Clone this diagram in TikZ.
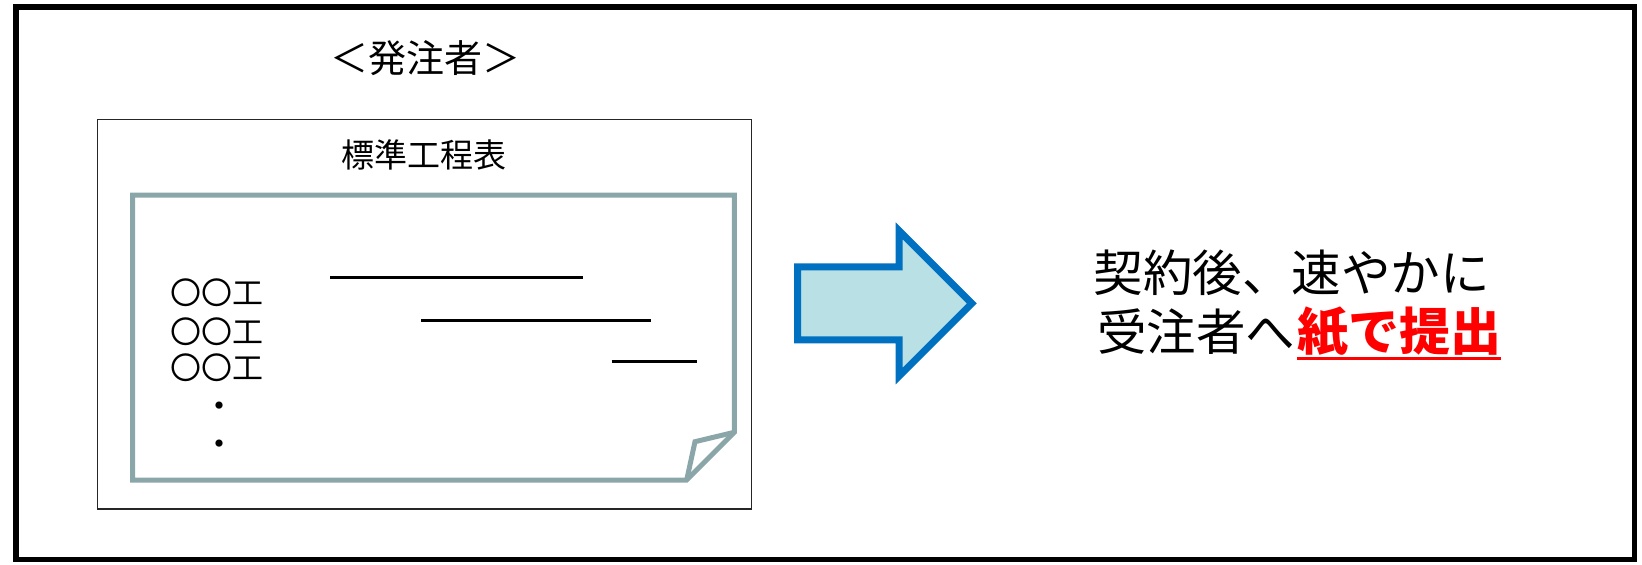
\documentclass[tikz,border=0pt]{standalone}
\usepackage{fontspec}
\setmainfont{Noto Sans CJK JP}
\usetikzlibrary{positioning}

\definecolor{papergray}{HTML}{8BA6A9}
\definecolor{arrowblue}{HTML}{0070C0}
\definecolor{arrowfill}{HTML}{B9E0E4}

\begin{document}
\begin{tikzpicture}[
			x=1pt, y=-1pt,
			every node/.style = {inner sep=0pt, outer sep=0pt},
			frame/.style      = {draw=black, line width=5.5pt},
			sheet/.style      = {draw=black!85, line width=1.4pt},
			paper/.style      = {draw=papergray, line width=5pt},
			bar/.style        = {draw=black, line width=3pt},
			bigarrow/.style   = {draw=arrowblue, fill=arrowfill, line width=7pt},
			ulline/.style     = {draw=red, line width=3.5pt},
			head/.style       = {anchor=base, font=\fontsize{38}{40}\selectfont},
			title/.style      = {anchor=base, font=\fontsize{33}{36}\selectfont},
			item/.style       = {anchor=base west, font=\fontsize{31}{33}\selectfont},
			dot/.style        = {anchor=base, font=\fontsize{34}{36}\selectfont},
			msg/.style        = {font=\fontsize{49.5}{52}\selectfont}
			]
			\useasboundingbox (0,0) rectangle (1642,565);
			
			%--- frames ---
			\draw[frame] (16,7) rectangle (1634.5,559.5);
			\draw[sheet] (97.4,119.3) rectangle (751.7,509);
			
			%--- paper with folded corner ---
			\draw[paper] (132.5,195) -- (734.3,195) -- (734.3,432.3)
			-- (686.7,480) -- (132.5,480) -- cycle;
			\draw[paper] (734.3,432.3) -- (695,441.7) -- (686.7,480);
			
			%--- texts on the left ---
			\node[head]  (owner) at (425,72.4)   {＜発注者＞};
			\node[title] (std)   at (424,167.5)  {標準工程表};
			
			\node[item] (w1) at (170.5,304)   {〇〇工};
			\node[item] (w2) at (170.5,343)   {〇〇工};
			\node[item] (w3) at (170.5,379.5) {〇〇工};
			\node[dot] (d1) at (219.5,418) {・};
			\node[dot] (d2) at (219.5,456) {・};
			
			%--- schedule bars ---
			\draw[bar] (330,277.3) -- (582.7,277.3);
			\draw[bar] (421,320)   -- (650.7,320);
			\draw[bar] (611.7,361) -- (696.7,361);
			
			%--- arrow ---
			\draw[bigarrow] (797.5,266.8) -- (899.2,266.8) -- (899.2,230.8)
			-- (971.8,303.4) -- (899.2,376) -- (899.2,339.8) -- (797.5,339.8) -- cycle;
			
			%--- message ---
			\node[msg, anchor=base]      (line1) at (1291.7,291) {契約後、速やかに};
			\node[msg, anchor=base east] (sub)   at (1295,350.5)  {受注者へ};
			\node[msg, anchor=base west, text=red, font=\fontsize{51}{54}\selectfont\bfseries]
			(submit) at (1297,350.5) {紙で提出};
			\draw[ulline] ([yshift=-8pt]submit.base west) -- ([yshift=-8pt]submit.base east);
		\end{tikzpicture}
\end{document}
